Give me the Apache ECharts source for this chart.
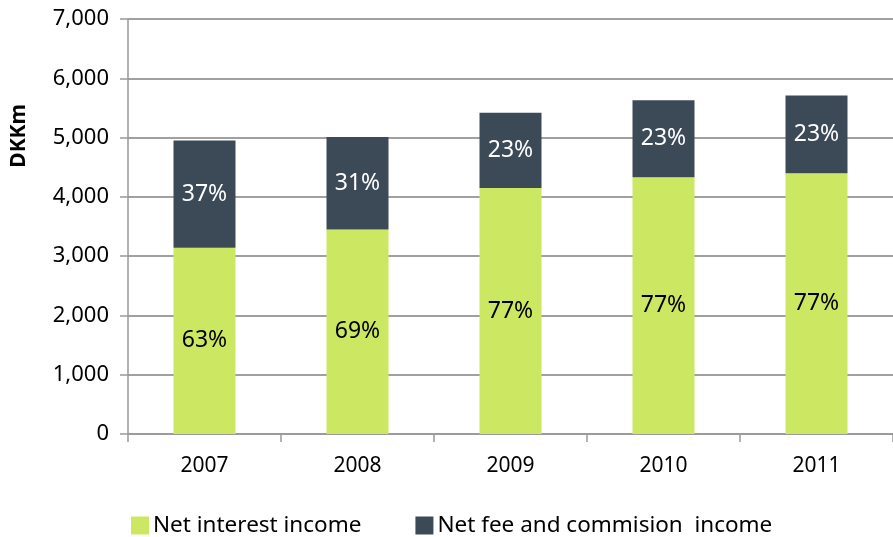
<!DOCTYPE html>
<html>
<head>
<meta charset="utf-8">
<script src="https://cdn.jsdelivr.net/npm/echarts@6/dist/echarts.min.js"></script>
<style>
  html, body { margin: 0; padding: 0; background: #fff; }
  #chart { width: 893px; height: 537px; }
</style>
</head>
<body>
<div id="chart"></div>
<script>
// Income split by year, DKKm
const years = ['2007', '2008', '2009', '2010', '2011'];
const netInterest = [3140, 3450, 4150, 4330, 4400];
const netFee = [1810, 1560, 1270, 1300, 1310];
const yTicks = [0, 1000, 2000, 3000, 4000, 5000, 6000, 7000];

const FONT = 'Noto Sans';
const totals = years.map((_, i) => netInterest[i] + netFee[i]);
const pct = (v, i) => Math.round(v / totals[i] * 100) + '%';

const chart = echarts.init(document.getElementById('chart'));
chart.setOption({
  animation: false,
  textStyle: { fontFamily: FONT },
  grid: { left: 128, right: -6, top: 19, bottom: 103, containLabel: false },
  legend: {
    top: 514,
    left: 131,
    padding: 0,
    itemWidth: 18,
    itemHeight: 18,
    itemGap: 54,
    icon: 'rect',
    textStyle: { fontFamily: FONT, fontSize: 22.5, color: '#000', padding: [0, 0, 0, -1] },
    data: ['Net interest income', 'Net fee and commision  income']
  },
  xAxis: {
    type: 'category',
    data: years,
    axisLine: { lineStyle: { color: '#999', width: 1.5 } },
    axisTick: { show: true, length: 8, lineStyle: { color: '#999', width: 1.5 } },
    axisLabel: { color: '#000', fontSize: 21, margin: 22, fontFamily: FONT }
  },
  yAxis: {
    type: 'value',
    min: yTicks[0],
    max: yTicks[yTicks.length - 1],
    interval: 1000,
    axisLine: { show: true, lineStyle: { color: '#999', width: 1.5 } },
    axisTick: { show: true, length: 8, lineStyle: { color: '#999', width: 1.5 } },
    splitLine: { lineStyle: { color: '#a0a0a0', width: 2 } },
    axisLabel: {
      color: '#000', fontSize: 22, margin: 19, fontFamily: FONT,
      formatter: v => v.toLocaleString('en-US')
    }
  },
  graphic: [{
    type: 'text',
    left: 9,
    top: 104,
    rotation: Math.PI / 2,
    style: { text: 'DKKm', fontFamily: FONT, fontWeight: 'bold', fontSize: 21, fill: '#000' }
  }],
  series: [
    {
      name: 'Net interest income',
      type: 'bar',
      stack: 'income',
      barWidth: 62,
      data: netInterest,
      itemStyle: { color: '#CCE862' },
      label: {
        show: true, position: 'inside', color: '#000', fontSize: 23, fontFamily: FONT,
        formatter: p => pct(p.value, p.dataIndex)
      }
    },
    {
      name: 'Net fee and commision  income',
      type: 'bar',
      stack: 'income',
      barWidth: 62,
      data: netFee,
      itemStyle: { color: '#3C4A58' },
      label: {
        show: true, position: 'inside', color: '#fff', fontSize: 23, fontFamily: FONT,
        formatter: p => pct(p.value, p.dataIndex)
      }
    }
  ]
});
</script>
</body>
</html>
